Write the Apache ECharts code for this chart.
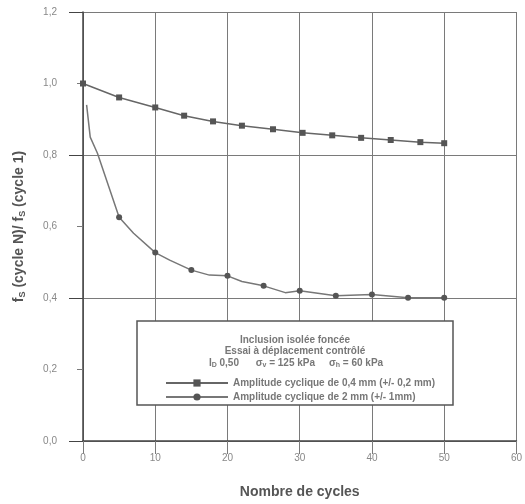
<!DOCTYPE html>
<html>
<head>
<meta charset="utf-8">
<script src="https://cdn.jsdelivr.net/npm/echarts@6/dist/echarts.min.js"></script>
<style>
  html, body { margin: 0; padding: 0; background: #fff; }
  #chart { width: 525px; height: 504px; }
</style>
</head>
<body>
<div id="chart"></div>
<script>
// cycle numbers / ratio for the 0,4 mm test
var cyclesA = [0, 5, 10, 14, 18, 22, 26.3, 30.4, 34.5, 38.5, 42.6, 46.7, 50];
var ratioA = [1.0, 0.961, 0.933, 0.91, 0.894, 0.882, 0.872, 0.862, 0.855, 0.848, 0.842, 0.836, 0.833];

// 2 mm test (trace + measured points)
var cyclesB = [0.5, 1, 2, 5, 7, 10, 12, 15, 17.5, 20, 22, 25, 28, 30, 35, 40, 45, 50];
var ratioB = [0.94, 0.85, 0.805, 0.626, 0.581, 0.527, 0.506, 0.478, 0.464, 0.462, 0.446, 0.434, 0.415, 0.42, 0.406, 0.41, 0.401, 0.401];
var markedB = [0, 0, 0, 1, 0, 1, 0, 1, 0, 1, 0, 1, 0, 1, 1, 1, 1, 1];

var yLabels = ['0,0', '0,2', '0,4', '0,6', '0,8', '1,0', '1,2'];
var seriesNames = ['Amplitude cyclique de 0,4 mm (+/- 0,2 mm)', 'Amplitude cyclique de 2 mm (+/- 1mm)'];

var chart = echarts.init(document.getElementById('chart'));

var dataA = cyclesA.map(function (c, i) { return [c, ratioA[i]]; });
var dataB = cyclesB.map(function (c, i) {
  var item = { value: [c, ratioB[i]] };
  if (!markedB[i]) item.symbol = 'none';
  return item;
});

var axisCol = '#444';
var gridCol = '#7a7a7a';
var boxText = '#777';

var option = {
  backgroundColor: '#fff',
  animation: false,
  grid: { left: 83, right: 7, top: 12, bottom: 63 },
  xAxis: {
    type: 'value',
    min: 0, max: 60, interval: 10,
    name: 'Nombre de cycles',
    nameLocation: 'middle',
    nameGap: 44,
    nameTextStyle: { fontFamily: 'Liberation Sans', fontWeight: 'bold', fontSize: 14, color: '#555' },
    axisLine: { lineStyle: { color: axisCol, width: 1.5 } },
    axisTick: { length: 13, lineStyle: { color: gridCol } },
    axisLabel: { margin: 12, fontFamily: 'Liberation Sans', fontSize: 10, color: '#888' },
    splitLine: { show: true, lineStyle: { color: gridCol, width: 1 } }
  },
  yAxis: [{
    type: 'value',
    min: 0, max: 1.2, interval: 0.2,
    name: '{f|f}{s|S} (cycle N)/ {f|f}{s|S} (cycle 1)',
    nameLocation: 'middle',
    nameGap: 56,
    nameRotate: 90,
    nameTextStyle: {
      fontFamily: 'Liberation Sans', fontWeight: 'bold', fontSize: 14, color: '#555',
      rich: {
        f: { fontFamily: 'Liberation Sans', fontWeight: 'bold', fontSize: 14, color: '#555' },
        s: { fontFamily: 'Liberation Sans', fontWeight: 'bold', fontSize: 9, color: '#555', verticalAlign: 'bottom', padding: [7, 0, 0, 0] }
      }
    },
    axisLine: { show: true, lineStyle: { color: axisCol, width: 1.5 } },
    axisTick: { show: true, length: 6, lineStyle: { color: gridCol } },
    axisLabel: {
      margin: 26, fontFamily: 'Liberation Sans', fontSize: 10, color: '#888',
      formatter: function (v) { return yLabels[Math.round(v / 0.2)]; }
    },
    splitLine: { show: false }
  }, {
    type: 'value',
    position: 'left',
    min: 0, max: 1.2, interval: 0.4,
    axisLine: { show: false },
    axisTick: { show: true, length: 14, lineStyle: { color: axisCol } },
    axisLabel: { show: false },
    splitLine: { show: true, lineStyle: { color: gridCol, width: 1 } }
  }],
  legend: {
    orient: 'vertical',
    left: 160, top: 373,
    itemWidth: 62, itemHeight: 9, itemGap: 4,
    textStyle: { fontFamily: 'Liberation Sans', fontWeight: 'bold', fontSize: 10, color: boxText },
    data: seriesNames
  },
  graphic: [{
    type: 'rect', z: 1,
    shape: { x: 137, y: 321, width: 316, height: 84 },
    style: { fill: '#fff', stroke: '#555', lineWidth: 1.5 }
  }, {
    type: 'text', z: 2, x: 295, y: 335,
    style: {
      text: 'Inclusion isolée foncée\nEssai à déplacement contrôlé',
      fontFamily: 'Liberation Sans', fontWeight: 'bold', fontSize: 10, lineHeight: 11,
      fill: boxText, align: 'center'
    }
  }, {
    type: 'text', z: 2, x: 296, y: 358,
    style: {
      text: 'I{s|D} 0,50      σ{s|v} = 125 kPa     σ{s|h} = 60 kPa',
      fontFamily: 'Liberation Sans', fontWeight: 'bold', fontSize: 10,
      fill: boxText, align: 'center',
      rich: { s: { fontSize: 7, fontWeight: 'bold', fill: boxText, padding: [4, 0, 0, 0] } }
    }
  }],
  series: [{
    name: seriesNames[0],
    type: 'line',
    data: dataA,
    symbol: 'rect',
    symbolSize: 6,
    lineStyle: { color: '#666', width: 1.5 },
    itemStyle: { color: '#555' },
    z: 3
  }, {
    name: seriesNames[1],
    type: 'line',
    data: dataB,
    symbol: 'circle',
    symbolSize: 6,
    lineStyle: { color: '#777', width: 1.5 },
    itemStyle: { color: '#555' },
    z: 3
  }]
};

chart.setOption(option);
</script>
</body>
</html>
